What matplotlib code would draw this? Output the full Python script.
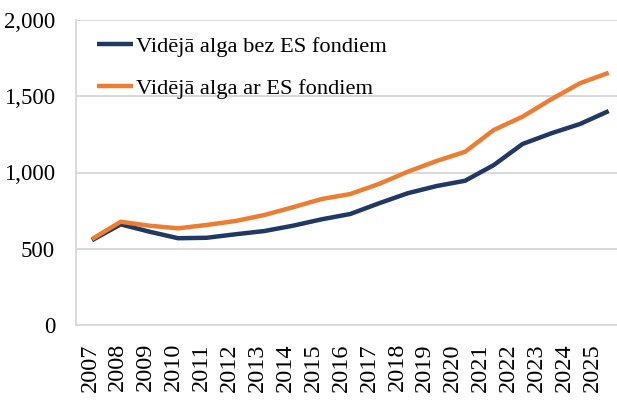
import matplotlib
matplotlib.use("Agg")
import matplotlib.pyplot as plt
import matplotlib.transforms as mtransforms

years = list(range(2007, 2026))
bez_es = [556, 660, 612, 569, 572, 595, 616, 651, 693, 728, 798, 864, 911, 946,
          1049, 1187, 1257, 1318, 1403]
ar_es = [563, 677, 651, 634, 656, 682, 721, 772, 826, 859, 925, 1005, 1075, 1136,
         1279, 1366, 1480, 1585, 1654]
labels = ["Vidējā alga bez ES fondiem", "Vidējā alga ar ES fondiem"]
yticks = [0, 500, 1000, 1500, 2000]

plt.rcParams['font.family'] = ['Liberation Serif', 'DejaVu Serif']

fig = plt.figure(figsize=(6.17, 4.0), dpi=100)
ax = fig.add_axes([0.123, 0.1875, 0.877, 0.7625])

ax.plot(years, bez_es, color='#1F3864', lw=3.2, label=labels[0], solid_capstyle='butt')
ax.plot(years, ar_es, color='#ED7D31', lw=3.2, label=labels[1], solid_capstyle='butt')

ax.set_xlim(2006.44, 2025.29)
ax.set_ylim(0, 2000)
ax.set_yticks(yticks)
ax.set_yticklabels([f"{v:,}" for v in yticks], fontsize=16.5)
ax.set_xticks(years)
ax.set_xticklabels([str(y) for y in years], rotation=90, fontsize=17.5)
ax.tick_params(axis='y', length=0, pad=15)
ax.tick_params(axis='x', length=0, pad=13)

# category labels in the original sit slightly tighter than the line points
for i, lab in enumerate(ax.get_xticklabels()):
    shift_px = -2 - 0.8 * i
    lab.set_transform(lab.get_transform() +
                      mtransforms.ScaledTranslation(shift_px / fig.dpi, 0,
                                                    fig.dpi_scale_trans))

ax.grid(axis='y', color='#D9D9D9', lw=1.4)
ax.set_axisbelow(True)
for side in ['top', 'right']:
    ax.spines[side].set_visible(False)
for side in ['left', 'bottom']:
    ax.spines[side].set_color('#D9D9D9')
    ax.spines[side].set_linewidth(1.4)

ax.legend(loc='upper left', bbox_to_anchor=(0.039, 0.948), frameon=False,
          fontsize=16.2, handlelength=1.6, handletextpad=0.15, labelspacing=0.95,
          borderpad=0, borderaxespad=0)

fig.savefig('out.png', dpi=100)
